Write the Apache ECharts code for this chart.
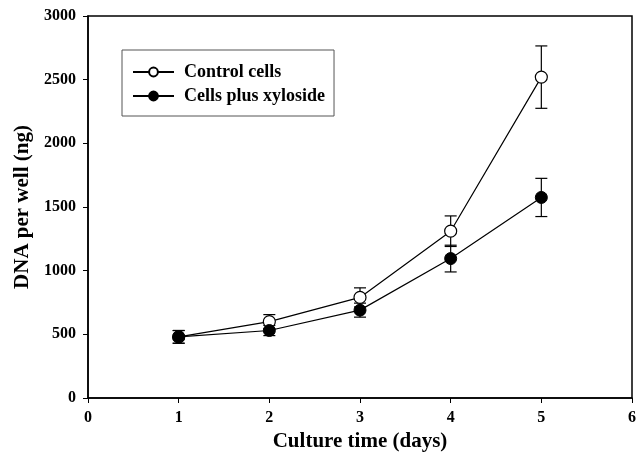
<!DOCTYPE html>
<html><head><meta charset="utf-8">
<script src="https://cdn.jsdelivr.net/npm/echarts@6/dist/echarts.min.js"></script>
<style>html,body{margin:0;padding:0;background:#fff}#c{width:644px;height:453px}</style>
</head><body><div id="c"></div>
<script>
const days = [1, 2, 3, 4, 5];
const controlMean = [480, 600, 790, 1310, 2520];
const controlErr = [50, 55, 75, 120, 245];
const xyloMean = [480, 530, 690, 1095, 1575];
const xyloErr = [50, 40, 55, 105, 150];
const xTicks = [0, 1, 2, 3, 4, 5, 6];
const yTicks = [0, 500, 1000, 1500, 2000, 2500, 3000];

const font = 'Liberation Serif';
function pairs(m){ return days.map((d,i)=>[d,m[i]]); }
function errData(m,e){ return days.map((d,i)=>[d,m[i]-e[i],m[i]+e[i]]); }
function errSeries(m,e){
  return {
    type:'custom', silent:true, z:1,
    data: errData(m,e),
    renderItem: function(params, api){
      const x = api.value(0);
      const lo = api.coord([x, api.value(1)]);
      const hi = api.coord([x, api.value(2)]);
      const w = 6;
      const st = {stroke:'#000', lineWidth:1.2};
      return {type:'group', children:[
        {type:'line', shape:{x1:lo[0],y1:lo[1],x2:hi[0],y2:hi[1]}, style:st},
        {type:'line', shape:{x1:lo[0]-w,y1:lo[1],x2:lo[0]+w,y2:lo[1]}, style:st},
        {type:'line', shape:{x1:hi[0]-w,y1:hi[1],x2:hi[0]+w,y2:hi[1]}, style:st}
      ]};
    }
  };
}
const chart = echarts.init(document.getElementById('c'));
chart.setOption({
  animation:false,
  grid:{left:88, right:12, top:16, bottom:55, containLabel:false, outerBoundsMode:'none',
        show:true, borderColor:'#000', borderWidth:1.5},
  legend:{
    orient:'vertical', left:122, top:50,
    data:['Control cells','Cells plus xyloside'],
    borderColor:'#555', borderWidth:1, padding:[13,9,11,10], itemGap:6,
    itemWidth:41, itemHeight:11,
    textStyle:{fontFamily:font, fontWeight:'bold', fontSize:18, lineHeight:18, color:'#000', padding:[0,0,0,5]}
  },
  xAxis:{
    type:'value', min:0, max:6, interval:1,
    name:'Culture time (days)', nameLocation:'middle', nameGap:33,
    nameTextStyle:{fontFamily:font, fontWeight:'bold', fontSize:21, color:'#000'},
    axisLine:{onZero:false, lineStyle:{color:'#000', width:1.5}},
    axisTick:{show:true, inside:false, length:5, lineStyle:{color:'#000'}},
    axisLabel:{fontFamily:font, fontWeight:'bold', fontSize:16, color:'#000', margin:12,
      formatter:v=> xTicks.includes(v)? String(v):''},
    splitLine:{show:false}
  },
  yAxis:{
    type:'value', min:0, max:3000, interval:500,
    name:'DNA per well (ng)', nameLocation:'middle', nameGap:55,
    nameTextStyle:{fontFamily:font, fontWeight:'bold', fontSize:21, color:'#000'},
    axisLine:{lineStyle:{color:'#000', width:1.5}},
    axisTick:{show:true, inside:false, length:5, lineStyle:{color:'#000'}},
    axisLabel:{fontFamily:font, fontWeight:'bold', fontSize:16, color:'#000', margin:12,
      formatter:v=> yTicks.includes(v)? String(v):''},
    splitLine:{show:false}
  },
  series:[
    errSeries(controlMean, controlErr),
    errSeries(xyloMean, xyloErr),
    {name:'Control cells', type:'line', data:pairs(controlMean), z:2,
     symbol:'circle', symbolSize:12,
     lineStyle:{color:'#000', width:1.2},
     itemStyle:{color:'#fff', borderColor:'#000', borderWidth:1.2}},
    {name:'Cells plus xyloside', type:'line', data:pairs(xyloMean), z:3,
     symbol:'circle', symbolSize:12,
     lineStyle:{color:'#000', width:1.2},
     itemStyle:{color:'#000', borderColor:'#000', borderWidth:1}}
  ]
});
</script></body></html>
